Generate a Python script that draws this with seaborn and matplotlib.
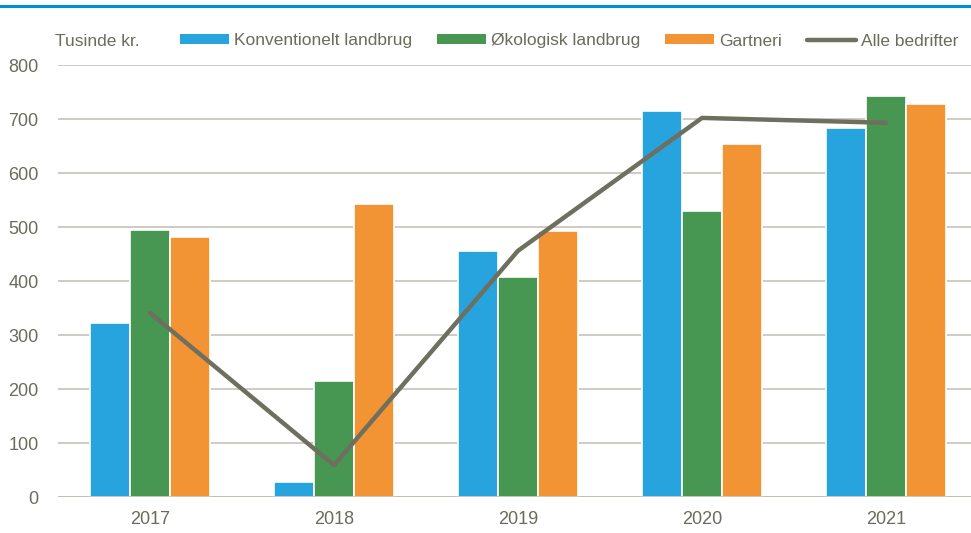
import matplotlib
matplotlib.use("Agg")
import matplotlib.pyplot as plt
import seaborn as sns
import pandas as pd
from matplotlib.lines import Line2D
from matplotlib.patches import Patch
from matplotlib import font_manager

years = ["2017", "2018", "2019", "2020", "2021"]
series = ["Konventionelt landbrug", "Økologisk landbrug", "Gartneri"]
konventionelt = [322, 28, 456, 715, 683]
okologisk = [494, 215, 407, 530, 743]
gartneri = [481, 543, 493, 654, 728]
alle = [341, 59, 456, 702, 693]
line_label = "Alle bedrifter"
unit_label = "Tusinde kr."
yticks = [0, 100, 200, 300, 400, 500, 600, 700, 800]

colors = ["#27a3dd", "#479651", "#f29433"]
line_color = "#6f6f60"
text_color = "#6b6b5e"
grid_color = "#c9c7bd"

sns.set_theme(style="white")
names = {f.name for f in font_manager.fontManager.ttflist}
fam = "Liberation Sans Narrow" if "Liberation Sans Narrow" in names else "Liberation Sans"
plt.rcParams["font.family"] = [fam, "DejaVu Sans"]

df = pd.DataFrame({
    "year": years * 3,
    "series": sum([[s] * len(years) for s in series], []),
    "value": konventionelt + okologisk + gartneri,
})

fig = plt.figure(figsize=(9.71, 5.33), dpi=100)
ax = fig.add_axes([58 / 971, 1 - 497 / 533, 920 / 971, (497 - 65) / 533])

sns.barplot(data=df, x="year", y="value", hue="series", palette=colors,
            saturation=1, width=0.65, edgecolor="white", linewidth=1.2, ax=ax,
            legend=False, zorder=3)
sns.lineplot(x=list(range(len(years))), y=alle, color=line_color, linewidth=3.2,
             ax=ax, zorder=4, legend=False)

ax.set_xlim(-0.5, len(years) - 0.5)
ax.set_ylim(0, 800)
ax.set_yticks(yticks)
ax.set_yticklabels([str(t) for t in yticks])
ax.set_xlabel("")
ax.set_ylabel("")
for s in ax.spines.values():
    s.set_visible(False)
ax.yaxis.grid(True, color=grid_color, linewidth=1.3, zorder=0)
ax.set_axisbelow(True)
ax.axhline(0, color="#bdbbb0", linewidth=1.8, zorder=5)
ax.tick_params(axis="both", length=0, labelsize=13, labelcolor=text_color)
ax.tick_params(axis="y", pad=14)
ax.tick_params(axis="x", pad=10)

# top blue rule
fig.add_artist(Line2D([0, 1], [1 - 6 / 533, 1 - 6 / 533], color="#0090d0",
                      linewidth=2.2, transform=fig.transFigure))

fig.text(55 / 971, 1 - 41 / 533, unit_label, color=text_color, fontsize=12.5,
         va="center", ha="left")

handles = [Patch(facecolor=c, edgecolor="none") for c in colors]
handles.append(Line2D([0], [0], color=line_color, linewidth=3.2))
leg = fig.legend(handles, series + [line_label], loc="center left",
                 bbox_to_anchor=(180 / 971, 1 - 41 / 533), ncol=4, frameon=False,
                 fontsize=12.5, handlelength=2.8, handleheight=0.5,
                 handletextpad=0.3, columnspacing=1.45, borderpad=0,
                 borderaxespad=0, labelcolor=text_color)

fig.savefig("out.png", dpi=100)
